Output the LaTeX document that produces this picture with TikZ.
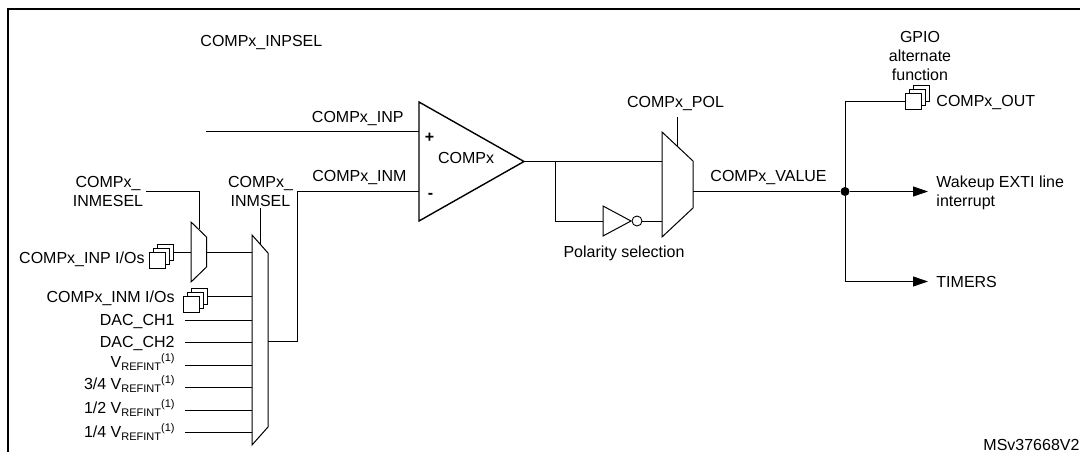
\documentclass[tikz,border=0pt]{standalone}
\usepackage{fontspec}
\setmainfont{Liberation Sans}
\usetikzlibrary{arrows.meta}
\newcommand{\vrefint}{V\raisebox{-3pt}{\fontsize{11}{11}\selectfont REFINT}\raisebox{6pt}{\fontsize{11}{11}\selectfont (1)}}
\begin{document}
\begin{tikzpicture}
      [x=1pt,y=-1pt,line width=0.9pt,inner sep=0pt,
       font=\fontsize{16}{19}\selectfont,
       frame/.style={line width=2pt},
       block/.style={line width=1pt,line join=miter},
       amp/.style={line width=1.4pt,line join=miter},
       lblw/.style={anchor=base west},
       lble/.style={anchor=base east},
       lblc/.style={anchor=base},
       stackbox/.style={rectangle,draw,fill=white,line width=0.9pt,minimum size=16pt},
       tip/.style={-{Triangle[length=15pt,width=10pt]}}]
      \useasboundingbox (0,0) rectangle (1080,452);
      \draw [frame] (1090,9.5) -- (7.5,9.5) -- (7.5,462);
      \node at (200,47) (inpsel) [lblw] {COMPx\_INPSEL};
      \node at (404,122) (inp) [lble] {COMPx\_INP};
      \node at (407,181) (inm) [lble] {COMPx\_INM};
      \node at (466,164) (compx) [lblc] {COMPx};
      \node at (429.5,137.5) (plus) {\textbf{+}};
      \node at (430.5,195.5) (minus) {\textbf{-}};
      \node at (108,206) (inmesel) [lblc,align=center] {COMPx\_\\INMESEL};
      \node at (260.5,206) (inmsel) [lblc,align=center] {COMPx\_\\INMSEL};
      \node at (145,263) (inpios) [lble] {COMPx\_INP I/Os};
      \node at (175,302) (inmios) [lble] {COMPx\_INM I/Os};
      \node at (175,325) (dac1) [lble] {DAC\_CH1};
      \node at (175,347) (dac2) [lble] {DAC\_CH2};
      \node at (175,367) (vr1) [lble] {\vrefint};
      \node at (175,389) (vr2) [lble] {3/4 \vrefint};
      \node at (175,413) (vr3) [lble] {1/2 \vrefint};
      \node at (175,437) (vr4) [lble] {1/4 \vrefint};
      \node at (675.5,107) (pol) [lblc] {COMPx\_POL};
      \node at (710,181.5) (value) [lblw] {COMPx\_VALUE};
      \node at (624,257) (polsel) [lblc] {Polarity selection};
      \node at (920,81) (gpio) [lblc,align=center] {GPIO\\alternate\\function};
      \node at (936,106.5) (out) [lblw] {COMPx\_OUT};
      \node at (936,206) (wakeup) [lblw,align=left] {Wakeup EXTI line\\interrupt};
      \node at (936,287) (timers) [lblw] {TIMERS};
      \node at (983,450) (ref) [lblw] {MSv37668V2};
      \foreach \n/\x/\y in {inpa/165/252,inpb/161/256,inpc/157/260,inma/199.5/296.5,inmb/195.5/300.5,inmc/191.5/304.5,outa/921/93.5,outb/917/97.5,outc/913/101.5}
         \node at (\x,\y) (\n) [stackbox] {};
      \coordinate (ampa) at (419,102);
      \coordinate (ampb) at (524,161.5);
      \coordinate (ampc) at (419,221);
      \draw [amp] (ampa) -- (ampb) -- (ampc) -- cycle;
      \draw [block] (191,222) -- (206.5,237) -- (206.5,267) -- (191,282) -- cycle;
      \draw [block] (252,235) -- (268,253) -- (268,427) -- (252,445) -- cycle;
      \draw [block] (662,132) -- (693,161) -- (693,208) -- (662,237) -- cycle;
      \draw [block] (603,206) -- (631,221) -- (603,236) -- cycle;
      \node at (637,221) (bubble) [circle,draw,minimum size=10pt] {};
      \coordinate (inpstart) at (206,131.5);
      \coordinate (inpend) at (419,131.5);
      \coordinate (inmend) at (419,191.5);
      \coordinate (inmout) at (268,341.5);
      \draw (inpstart) -- (inpend);
      \draw (inmend) -| (297.5,341.5) -- (inmout);
      \coordinate (meselstart) at (146,191.5);
      \coordinate (meselend) at (199,229);
      \draw (meselstart) -| (meselend);
      \coordinate (mselstart) at (260.5,208);
      \coordinate (mselend) at (260.5,244);
      \draw (mselstart) -- (mselend);
      \coordinate (smallin) at (191,252);
      \coordinate (smallout) at (206.5,252);
      \coordinate (bigin) at (252,252);
      \draw (inpa.east) -- (smallin);
      \draw (smallout) -- (bigin);
      \coordinate (biginm) at (252,296.5);
      \draw (inma.east) -- (biginm);
      \foreach \n/\y in {a/320.5,b/342.5,c/365.5,d/387.5,e/410.5,f/432.5}
      {
         \coordinate (from\n) at (185,\y);
         \coordinate (to\n) at (252,\y);
         \draw (from\n) -- (to\n);
      }
      \coordinate (muxtop) at (662,161.5);
      \coordinate (branch) at (555.5,161.5);
      \coordinate (invin) at (603,221);
      \coordinate (muxlow) at (662,221);
      \draw (ampb) -- (muxtop);
      \draw (branch) |- (invin);
      \draw (bubble.east) -- (muxlow);
      \coordinate (polstart) at (677,117);
      \coordinate (polend) at (677,146);
      \draw (polstart) -- (polend);
      \coordinate (muxout) at (693,191.5);
      \node at (845,191.5) (split) [circle,fill,minimum size=9pt] {};
      \coordinate (wakeend) at (928,191.5);
      \coordinate (timersend) at (928,281.5);
      \draw (muxout) -- (split);
      \draw [tip] (split) -- (wakeend);
      \draw (split) |- (outc.west);
      \draw [tip] (split) |- (timersend);
\end{tikzpicture}
\end{document}
